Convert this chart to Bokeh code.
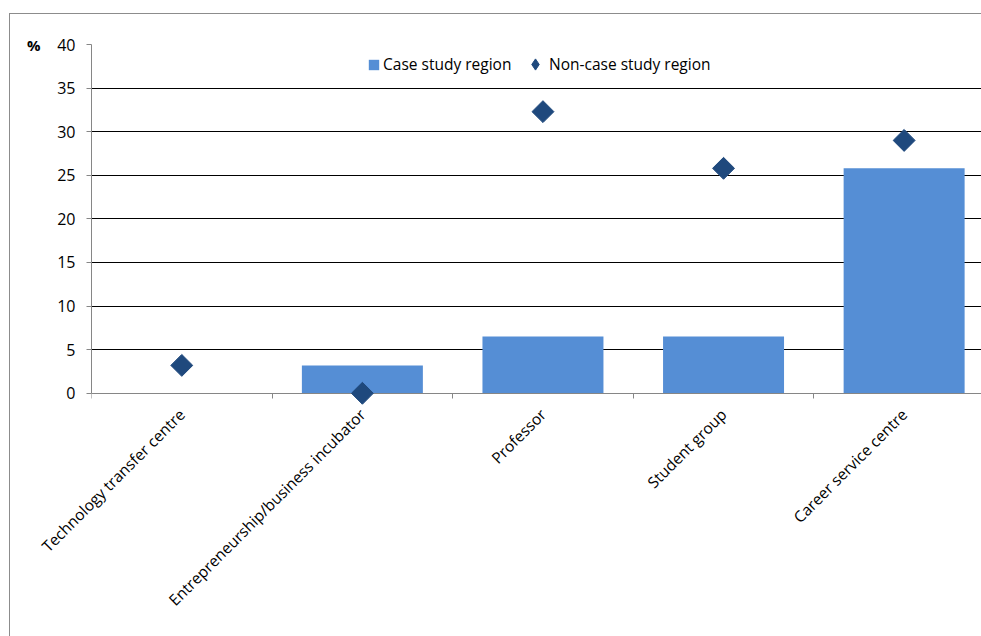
from math import pi

from bokeh.plotting import figure
from bokeh.models import (ColumnDataSource, FixedTicker, LinearAxis,
                          Range1d, Legend, LegendItem)
from bokeh.embed import file_html
from bokeh.resources import INLINE

# Support providers named by respondents (% of respondents)
categories = [
    "Technology transfer centre",
    "Entrepreneurship/business incubator",
    "Professor",
    "Student group",
    "Career service centre",
]
case_study = [0.0, 3.2, 6.5, 6.5, 25.8]
non_case_study = [3.2, 0.0, 32.3, 25.8, 29.0]
y_ticks = [0, 5, 10, 15, 20, 25, 30, 35, 40]

FONT = "Open Sans"
BAR_COLOR = "#558ED5"
MARK_COLOR = "#1F497D"
AXIS_GRAY = "#868686"

centres = [i + 0.5 for i in range(len(categories))]
boundaries = list(range(len(categories)))
source = ColumnDataSource(dict(x=centres, cat=categories, case=case_study, non=non_case_study))

p = figure(
    width=972, height=623,
    margin=(13, 0, 0, 9),
    x_range=Range1d(0, 4.934), y_range=Range1d(-1.4, 40),
    min_border_left=81, min_border_right=0, min_border_top=30, min_border_bottom=232,
    output_backend="svg", toolbar_location=None,
)
p.styles = {"border-left": "1px solid #8c8c8c", "border-top": "1px solid #8c8c8c"}
p.outline_line_color = None
p.background_fill_color = "white"
p.border_fill_color = "white"
# a range far from the data, so the legend-key renderer stays outside the frame
p.extra_y_ranges = {"key": Range1d(-200, -100)}

bars = p.vbar(x="x", top="case", width=0.67, source=source,
              fill_color=BAR_COLOR, line_color=None)
marks = p.scatter(x="x", y="non", source=source, marker="square", size=15.5,
                  angle=pi / 4, color=MARK_COLOR, level="overlay")
key = p.scatter(x="x", y="non", source=source, y_range_name="key",
                marker="diamond", size=12, color=MARK_COLOR)

# y axis and grid
p.yaxis.ticker = FixedTicker(ticks=y_ticks)
p.yaxis.bounds = (0, 40)
p.yaxis.axis_line_color = AXIS_GRAY
p.yaxis.major_tick_line_color = AXIS_GRAY
p.yaxis.major_tick_out = 5
p.yaxis.major_tick_in = 0
p.yaxis.minor_tick_line_color = None
p.yaxis.major_label_text_font = FONT
p.yaxis.major_label_text_font_size = "16px"
p.yaxis.major_label_text_color = "black"
p.yaxis.major_label_standoff = 11
p.ygrid.ticker = FixedTicker(ticks=y_ticks[1:])
p.ygrid.grid_line_color = "black"
p.ygrid.grid_line_width = 1
p.xgrid.grid_line_color = None

# unit marker at the top of the value axis
unit_axis = LinearAxis(ticker=FixedTicker(ticks=[40]), major_label_overrides={40: "%"})
unit_axis.axis_line_color = None
unit_axis.major_tick_line_color = None
unit_axis.major_tick_out = 0
unit_axis.minor_tick_line_color = None
unit_axis.major_label_text_font = FONT
unit_axis.major_label_text_font_size = "15px"
unit_axis.major_label_text_font_style = "bold"
unit_axis.major_label_text_color = "black"
unit_axis.major_label_standoff = 14
p.add_layout(unit_axis, "left")

# base line at zero with tick marks at the category boundaries
p.xaxis.fixed_location = 0
p.xaxis.ticker = FixedTicker(ticks=[], minor_ticks=boundaries)
p.xaxis.axis_line_color = AXIS_GRAY
p.xaxis.major_tick_line_color = None
p.xaxis.major_tick_out = 0
p.xaxis.minor_tick_line_color = AXIS_GRAY
p.xaxis.minor_tick_out = 5
p.xaxis.minor_tick_in = 0
p.xaxis.major_label_standoff = 0

# category names, rotated, ending under each category centre
cat_axis = LinearAxis(ticker=FixedTicker(ticks=centres),
                      major_label_overrides={c: name for c, name in zip(centres, categories)})
cat_axis.axis_line_color = None
cat_axis.major_tick_line_color = None
cat_axis.major_tick_out = 0
cat_axis.minor_tick_line_color = None
cat_axis.major_label_orientation = pi / 4
cat_axis.major_label_text_font = FONT
cat_axis.major_label_text_font_size = "15.5px"
cat_axis.major_label_text_color = "black"
cat_axis.major_label_standoff = 6
p.add_layout(cat_axis, "below")


def make_legend(label, renderer, location, box, standoff):
    lg = Legend(items=[LegendItem(label=label, renderers=[renderer])], location=location)
    lg.border_line_color = None
    lg.background_fill_alpha = 0
    lg.label_text_font = FONT
    lg.label_text_font_size = "15.5px"
    lg.label_text_color = "black"
    lg.glyph_width = box
    lg.glyph_height = box
    lg.padding = 0
    lg.margin = 0
    lg.label_standoff = standoff
    return lg


p.add_layout(make_legend("Case study region", bars, (276, 330), 13, 3))
p.add_layout(make_legend("Non-case study region", key, (430, 327), 28, 0))

open("out.html", "w").write(file_html(p, INLINE))
